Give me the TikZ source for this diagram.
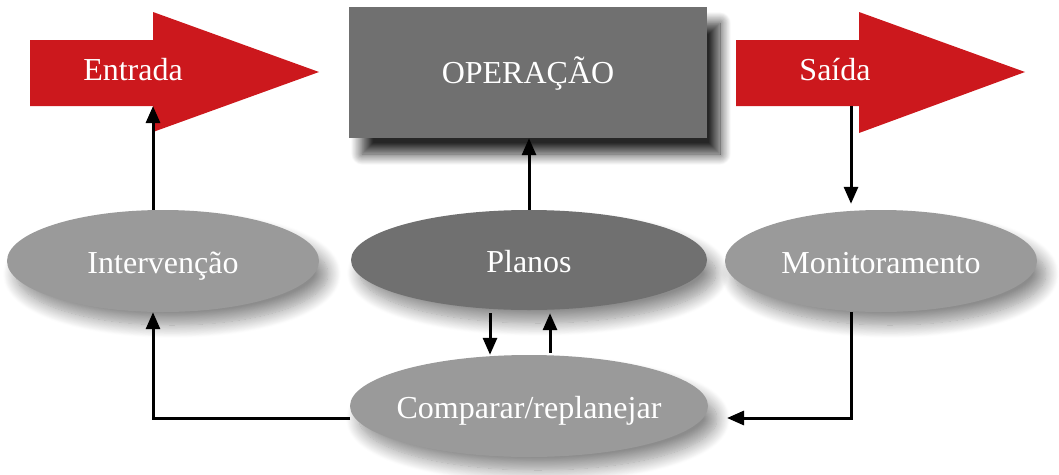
\documentclass[tikz,border=0pt]{standalone}
\usepackage{fontspec}
\setmainfont{Liberation Serif}
\usetikzlibrary{shapes.geometric,shadows.blur,arrows.meta}
\definecolor{rd}{HTML}{CC181D}
\definecolor{dg}{HTML}{707070}
\definecolor{lg}{HTML}{9A9A9A}
\newcommand{\zw}[1]{\makebox[0pt]{#1}}
\tikzset{
 lbl/.style={text=white,font=\fontsize{32}{34}\selectfont},
 oval/.style={ellipse,inner sep=0pt,lbl,text height=27pt,text depth=3pt,
   blur shadow={shadow xshift=9pt,shadow yshift=-13pt,shadow blur radius=13pt,shadow opacity=45,shadow blur steps=16}},
 conn/.style={line width=3pt,-{Triangle[length=17pt,width=14pt]}},
}
\begin{document}
\begin{tikzpicture}[x=1pt,y=-1pt]
\useasboundingbox (0,0) rectangle (1059,474);
% red arrows
\fill[rd] (30,40) -- (153,40) -- (153,12) -- (319,72) -- (153,132) -- (153,106) -- (30,106) -- cycle;
\fill[rd] (736,40) -- (859,40) -- (859,12) -- (1025,72) -- (859,133) -- (859,106) -- (736,106) -- cycle;
\node[lbl,text height=22pt,text depth=6pt] (ent) at (133,72) {Entrada};
\node[lbl,text height=22pt,text depth=6pt] (sai) at (835,72) {Saída};
\coordinate (entB) at (153,106);
\coordinate (saiB) at (851,106);
% operation box
\node[lbl,fill=dg,inner sep=0pt,minimum width=358pt,minimum height=131pt,text height=25pt,text depth=4pt,
  blur shadow={shadow xshift=13pt,shadow yshift=-16pt,shadow blur radius=11pt,shadow opacity=85,shadow blur steps=16}]
  (op) at (528,72.5) {OPERAÇÃO};
% ellipses
\node[oval,fill=lg,minimum width=312pt,minimum height=102pt] (int) at (163,261) {\zw{Intervenção}};
\node[oval,fill=dg,minimum width=356pt,minimum height=100pt] (pl) at (529,260) {\zw{Planos}};
\node[oval,fill=lg,minimum width=312pt,minimum height=102pt] (mon) at (881,261) {\zw{Monitoramento}};
\node[oval,fill=lg,minimum width=358pt,minimum height=102pt] (cmp) at (529,406) {\zw{Comparar/replanejar}};
\coordinate (cmpL) at (350,418);
\coordinate (cmpR) at (727,418);
% connectors
\draw[conn] (int.north -| entB) -- (entB);
\draw[conn] (pl.north) -- (pl.north |- op.south);
\draw[conn,shorten >=6pt] (saiB) -- (saiB |- mon.north);
\draw[conn,shorten <=3pt] ([xshift=-39pt]pl.south) -- ([xshift=-39pt]pl.south |- cmp.north);
\draw[conn,shorten <=2pt,shorten >=3pt] ([xshift=21pt]cmp.north) -- ([xshift=21pt]cmp.north |- pl.south);
\draw[conn] (mon.south -| saiB) |- (cmpR);
\draw[conn] (cmpL) -| (int.south -| entB);
\end{tikzpicture}
\end{document}
